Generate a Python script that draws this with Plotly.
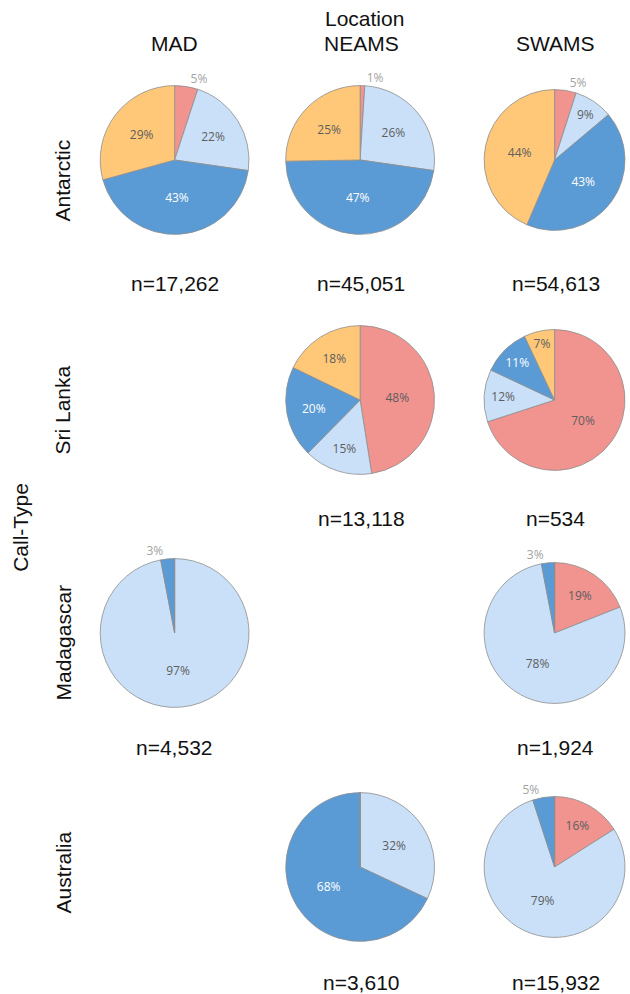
import plotly.graph_objects as go

# ---- data ----
call_types = ["Antarctic", "Sri Lanka", "Madagascar", "Australia"]
locations = ["MAD", "NEAMS", "SWAMS"]
slice_labels = ["Category 1", "Category 2", "Category 3", "Category 4"]

antarctic_mad = [5, 22, 43, 29]
antarctic_neams = [1, 26, 47, 25]
antarctic_swams = [5, 9, 43, 44]
srilanka_neams = [48, 15, 20, 18]
srilanka_swams = [70, 12, 11, 7]
madagascar_mad = [0, 97, 3, 0]
madagascar_swams = [19, 78, 3, 0]
australia_neams = [0, 32, 68, 0]
australia_swams = [16, 79, 5, 0]

n_antarctic = ["n=17,262", "n=45,051", "n=54,613"]
n_srilanka = [None, "n=13,118", "n=534"]
n_madagascar = ["n=4,532", None, "n=1,924"]
n_australia = [None, "n=3,610", "n=15,932"]

grid = [
    [antarctic_mad, antarctic_neams, antarctic_swams],
    [None, srilanka_neams, srilanka_swams],
    [madagascar_mad, None, madagascar_swams],
    [None, australia_neams, australia_swams],
]
n_grid = [n_antarctic, n_srilanka, n_madagascar, n_australia]

# ---- style / layout (screen pixel positions) ----
W, H = 630, 994
slice_colors = ["#F1938F", "#C9E0F8", "#5B9BD5", "#FFC878"]
inside_text_colors = ["#5E5E5E", "#5E5E5E", "#FFFFFF", "#5E5E5E"]
outside_text_color = "#A3A3A3"
col_cx = [176, 363, 559]
row_cy = [160, 400, 633, 867]
R = 75
n_label_y = [283, 518, 747, 982]
n_label_x = [176, 364, 560]
FONT = "Liberation Sans, Arial, sans-serif"
PIE_FONT = "Open Sans, Liberation Sans, sans-serif"


def px_x(x):
    return x / W


def px_y(y):
    return 1 - y / H


fig = go.Figure()

for ri, row in enumerate(grid):
    for ci, vals in enumerate(row):
        if vals is None:
            continue
        cx, cy = col_cx[ci], row_cy[ri]
        half = min(R, W - cx)
        dom_x = [px_x(cx - half), px_x(cx + half)]
        dom_y = [px_y(cy + half), px_y(cy - half)]
        texts = [f"{v}%" if v > 0 else "" for v in vals]
        outside = [v <= 5 for v in vals]
        positions = ["outside" if o else "inside" for o in outside]
        colors = [outside_text_color if o else c for o, c in zip(outside, inside_text_colors)]
        fig.add_trace(go.Pie(
            labels=slice_labels,
            values=vals,
            text=texts,
            textinfo="text",
            textposition=positions,
            insidetextorientation="horizontal",
            sort=False,
            direction="clockwise",
            rotation=0,
            marker=dict(colors=slice_colors, line=dict(color="#8E8E8E", width=0.8)),
            textfont=dict(family=PIE_FONT, size=12, color=colors),
            insidetextfont=dict(family=PIE_FONT, size=12, color=colors),
            outsidetextfont=dict(family=PIE_FONT, size=12, color=colors),
            domain=dict(x=dom_x, y=dom_y),
            showlegend=False,
            hoverinfo="label+percent",
        ))

annotations = []
txt_font = dict(family=FONT, size=21, color="#111111")

for ri, labels in enumerate(n_grid):
    for ci, lab in enumerate(labels):
        if lab is None:
            continue
        annotations.append(dict(
            x=px_x(n_label_x[ci]), y=px_y(n_label_y[ri]),
            xref="paper", yref="paper", text=lab, showarrow=False,
            font=txt_font, xanchor="center", yanchor="middle", borderpad=0))

header_x = [176, 364, 560]
for ci, loc in enumerate(locations):
    annotations.append(dict(
        x=px_x(header_x[ci]), y=px_y(44), xref="paper", yref="paper",
        text=loc, showarrow=False, font=txt_font,
        xanchor="center", yanchor="middle", borderpad=0))
annotations.append(dict(
    x=px_x(367), y=px_y(19), xref="paper", yref="paper", text="Location",
    showarrow=False, font=txt_font, xanchor="center", yanchor="middle", borderpad=0))

row_label_y = [180, 410, 642, 872]
for ri, ct in enumerate(call_types):
    annotations.append(dict(
        x=px_x(64), y=px_y(row_label_y[ri]), xref="paper", yref="paper",
        text=ct, showarrow=False, textangle=-90, font=txt_font,
        xanchor="center", yanchor="middle", borderpad=0))
annotations.append(dict(
    x=px_x(20), y=px_y(527), xref="paper", yref="paper", text="Call-Type",
    showarrow=False, textangle=-90, font=txt_font,
    xanchor="center", yanchor="middle", borderpad=0))

fig.update_layout(
    width=W, height=H,
    margin=dict(l=0, r=0, t=0, b=0),
    paper_bgcolor="white",
    plot_bgcolor="white",
    annotations=annotations,
)

fig.write_html(
    "out.html",
    config={"displayModeBar": False},
    post_script="document.body.style.margin='0';document.body.style.overflow='hidden';",
)
